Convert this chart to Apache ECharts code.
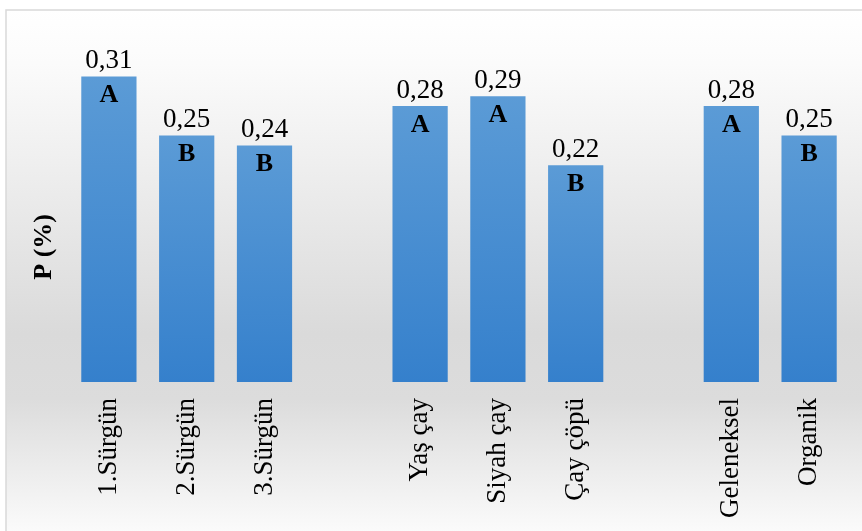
<!DOCTYPE html>
<html><head><meta charset="utf-8">
<script src="https://cdn.jsdelivr.net/npm/echarts@6/dist/echarts.min.js"></script>
<style>html,body{margin:0;padding:0;background:#fff}#c{width:862px;height:531px}</style>
</head><body><div id="c"></div>
<script>
const categories = ['1.Sürgün','2.Sürgün','3.Sürgün','','Yaş çay','Siyah çay','Çay çöpü','','Geleneksel','Organik'];
const values = [0.31, 0.25, 0.24, null, 0.28, 0.29, 0.22, null, 0.28, 0.25];
const valueLabels = ['0,31','0,25','0,24','','0,28','0,29','0,22','','0,28','0,25'];
const letters = ['A','B','B','','A','A','B','','A','B'];
const yAxisTitle = 'P (%)';

const font = 'Liberation Serif';
const chart = echarts.init(document.getElementById('c'), null, {renderer:'canvas'});
const barGrad = new echarts.graphic.LinearGradient(0,0,0,1,[{offset:0,color:'#5b9bd6'},{offset:1,color:'#3580cc'}]);
chart.setOption({
  animation:false,
  graphic:[{type:'rect',z:-10,shape:{x:6,y:10,width:870,height:540},
    style:{fill:new echarts.graphic.LinearGradient(0,0,0,1,[{offset:0,color:'#ffffff'},{offset:0.1,color:'#fbfbfb'},{offset:0.6,color:'#dadada'},{offset:0.72,color:'#dcdcdc'},{offset:1,color:'#ffffff'}]),stroke:'#d9d9d9',lineWidth:1.5}},
    {type:'text',left:31,top:214,rotation:Math.PI/2,style:{text:yAxisTitle,font:"bold 26px 'Liberation Serif'",fill:'#000'}}],
  grid:{left:70,right:14,top:37,bottom:149},
  xAxis:{type:'category',data:categories,axisLine:{show:false},axisTick:{show:false},
    axisLabel:{rotate:90,margin:16,fontFamily:font,fontSize:27,color:'#000'}},
  yAxis:{type:'value',min:0,max:0.35,show:false},
  series:[
    {type:'bar',data:values,barWidth:'71%',itemStyle:{color:barGrad},
     label:{show:true,position:'top',distance:2,fontFamily:font,fontSize:27,color:'#000',
       formatter:p=>valueLabels[p.dataIndex]}},
    {type:'bar',data:values,barWidth:'71%',barGap:'-100%',itemStyle:{color:'rgba(0,0,0,0)'},
     label:{show:true,position:'insideTop',distance:6,fontFamily:font,fontWeight:'bold',fontSize:26,color:'#000',
       formatter:p=>letters[p.dataIndex]}}
  ]
});
</script></body></html>
